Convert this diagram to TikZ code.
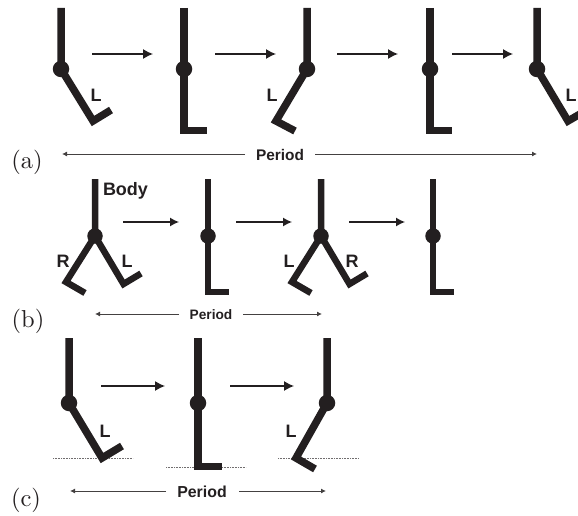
\documentclass[tikz,border=0pt]{standalone}
\usepackage{fontspec}
\setsansfont{Liberation Sans}
\usetikzlibrary{arrows.meta}
\definecolor{ink}{HTML}{231F20}
\tikzset{
  limb/.style={draw=ink,line width=7.5pt,line join=miter,line cap=butt},
  limbb/.style={limb,line width=6.5pt},
  jointa/.style={circle,fill=ink,minimum size=16.5pt,inner sep=0pt},
  jointb/.style={jointa,minimum size=15.5pt},
  flow/.style={draw=ink,line width=1.3pt,-{Latex[length=10pt,width=10pt]}},
  flowb/.style={draw=ink,line width=1.3pt,-{Latex[length=9pt,width=9pt]}},
  span/.style={draw=ink!85,line width=0.9pt,-{Latex[length=5pt,width=5pt]}},
  legname/.style={font=\sffamily\bfseries\fontsize{18}{20}\selectfont,text=ink,inner sep=0pt},
  period/.style={font=\sffamily\bfseries\fontsize{#1}{18}\selectfont,text=ink,inner sep=0pt},
  panel/.style={font=\rmfamily\fontsize{10}{12}\selectfont,text=ink,inner sep=0pt,scale=2.45,transform shape},
  ground/.style={draw=ink!65,line width=1pt,dash pattern=on 1pt off 0.6pt}
}
\begin{document}
\begin{tikzpicture}[x=1pt,y=-1pt]
\useasboundingbox (0,0) rectangle (578,516);
\clip (0,0) rectangle (578,516);
% Row a
\node[jointa] (a1) at (61,69) {};
\node[jointa] (a2) at (184,69) {};
\node[jointa] (a3) at (307,69) {};
\node[jointa] (a4) at (430,69) {};
\node[jointa] (a5) at (537,69) {};
\draw[limb] (61,8) -- (a1.center) -- (93,121) -- (111,110);
\draw[limb] (184,8) -- (a2.center) -- (184,130.5) -- (207,130.5);
\draw[limb] (307,8) -- (a3.center) -- (276,121) -- (295,131);
\draw[limb] (430,8) -- (a4.center) -- (430,130.5) -- (452,130.5);
\draw[limb] (537,8) -- (a5.center) -- (568,121) -- (587,110);
\coordinate (af1) at (92,54); \coordinate (at1) at (153,54);
\coordinate (af2) at (215,54); \coordinate (at2) at (276,54);
\coordinate (af3) at (337,54); \coordinate (at3) at (398,54);
\coordinate (af4) at (452,54); \coordinate (at4) at (513,54);
\draw[flow] (af1) -- (at1);
\draw[flow] (af2) -- (at2);
\draw[flow] (af3) -- (at3);
\draw[flow] (af4) -- (at4);
\node[legname] (la1) at (96,95) {L};
\node[legname] (la3) at (272,95) {L};
\node[legname] (la5) at (571,95) {L};
\node[period=15.4] (pa) at (280,155) {Period};
\coordinate (pal) at (62,154); \coordinate (par) at (537,154);
\coordinate (pas) at (245,154); \coordinate (pat) at (315,154);
\draw[span] (pas) -- (pal);
\draw[span] (pat) -- (par);
\node[panel] (ca) at (27,162) {(a)};
% Row b
\node[jointb] (b1) at (95,236) {};
\node[jointb] (b2) at (208,236) {};
\node[jointb] (b3) at (321,236) {};
\node[jointb] (b4) at (433,236) {};
\draw[limbb] (95,179) -- (b1.center) -- (123.5,284) -- (141,273.5);
\draw[limbb] (b1.center) -- (66,282) -- (85,293);
\draw[limbb] (208,179) -- (b2.center) -- (208,292) -- (229,292);
\draw[limbb] (321,179) -- (b3.center) -- (349.5,284) -- (367,273.5);
\draw[limbb] (b3.center) -- (292,282) -- (311,293);
\draw[limbb] (433,179) -- (b4.center) -- (433,292) -- (454,292);
\coordinate (bf1) at (123,222); \coordinate (bt1) at (179,222);
\coordinate (bf2) at (236,222); \coordinate (bt2) at (292,222);
\coordinate (bf3) at (349,222); \coordinate (bt3) at (405,222);
\draw[flowb] (bf1) -- (bt1);
\draw[flowb] (bf2) -- (bt2);
\draw[flowb] (bf3) -- (bt3);
\node[legname] (body) at (125.5,190.5) {Body};
\node[legname] (rb1) at (63,261) {R};
\node[legname] (lb1) at (127,261) {L};
\node[legname] (lb3) at (289,261) {L};
\node[legname] (rb3) at (352,261) {R};
\node[period=13.7] (pb) at (211,315) {Period};
\coordinate (pbl) at (95,314); \coordinate (pbr) at (322,314);
\coordinate (pbs) at (179,314); \coordinate (pbt) at (243,314);
\draw[span] (pbs) -- (pbl);
\draw[span] (pbt) -- (pbr);
\node[panel] (cb) at (28,321) {(b)};
% Row c
\node[jointa] (c1) at (69,403) {};
\node[jointa] (c2) at (198,403) {};
\node[jointa] (c3) at (327,403) {};
\coordinate (g1a) at (53,458.5); \coordinate (g1b) at (133,458.5);
\coordinate (g2a) at (166,467); \coordinate (g2b) at (246,467);
\coordinate (g3a) at (278,458.5); \coordinate (g3b) at (359,458.5);
\draw[ground] (g1a) -- (g1b);
\draw[ground] (g2a) -- (g2b);
\draw[ground] (g3a) -- (g3b);
\draw[limb] (69,338) -- (c1.center) -- (102,458) -- (122,446);
\draw[limb] (198,338) -- (c2.center) -- (198,466.5) -- (222,466.5);
\draw[limb] (327,338) -- (c3.center) -- (296,458) -- (315,469);
\coordinate (cf1) at (101,386); \coordinate (ct1) at (165,386);
\coordinate (cf2) at (230,386); \coordinate (ct2) at (294,386);
\draw[flow] (cf1) -- (ct1);
\draw[flow] (cf2) -- (ct2);
\node[legname] (lc1) at (105,431) {L};
\node[legname] (lc3) at (291,431) {L};
\node[period=15.9] (pc) at (202,492) {Period};
\coordinate (pcl) at (70,491); \coordinate (pcr) at (326,491);
\coordinate (pcs) at (166,491); \coordinate (pct) at (239,491);
\draw[span] (pcs) -- (pcl);
\draw[span] (pct) -- (pcr);
\node[panel] (cc) at (26,500) {(c)};
\end{tikzpicture}
\end{document}
